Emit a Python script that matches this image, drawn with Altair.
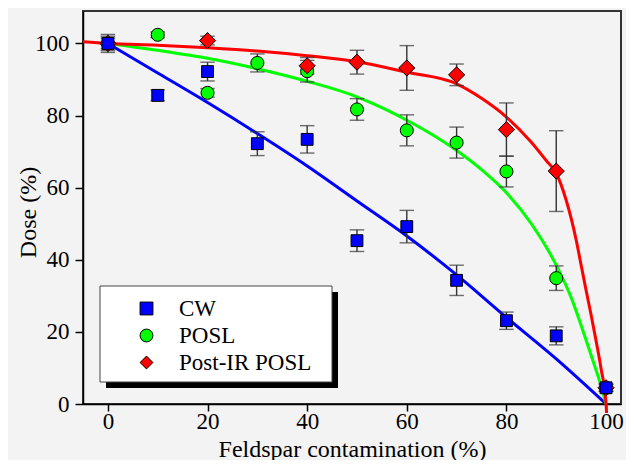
import altair as alt
import pandas as pd

series = ["CW", "POSL", "Post-IR POSL"]
colors = ["#0000ff", "#00ff00", "#ff0000"]
shapes = ["square", "circle", "diamond"]

x_ticks = [0, 20, 40, 60, 80, 100]
y_ticks = [0, 20, 40, 60, 80, 100]

# measured points (dose %, error)
cw_x = [0, 10, 20, 30, 40, 50, 60, 70, 80, 90, 100]
cw_y = [100, 85.6, 92.2, 72.2, 73.4, 45.3, 49.2, 34.3, 23.1, 18.9, 4.5]
cw_err = [2.5, 1.5, 2.6, 3.3, 3.8, 3.0, 4.5, 4.2, 2.4, 2.5, 1.0]

posl_x = [0, 10, 20, 30, 40, 50, 60, 70, 80, 90, 100]
posl_y = [100, 102.4, 86.3, 94.6, 92.3, 81.7, 75.9, 72.5, 64.5, 34.9, 4.5]
posl_err = [1.5, 0.8, 1.2, 2.5, 3.0, 3.0, 4.3, 4.3, 4.3, 3.4, 1.0]

pir_x = [0, 20, 40, 50, 60, 70, 80, 90, 100]
pir_y = [100, 100.8, 93.8, 94.8, 93.2, 91.3, 76.1, 64.6, 4.5]
pir_err = [2.0, 1.2, 2.3, 3.3, 6.2, 3.0, 7.4, 11.2, 1.0]

# fitted curves
cw_fit_x = [0, 10, 20, 30, 40, 50, 60, 70, 80, 90, 100]
cw_fit_y = [100, 91.8, 83.6, 75.0, 66.0, 56.3, 46.6, 35.8, 24.0, 12.5, 0]

posl_fit_x = [0, 10, 20, 30, 40, 50, 55, 60, 65, 70, 75, 80, 85, 90, 93, 95, 97, 99, 100]
posl_fit_y = [100, 98.1, 95.9, 93.0, 89.5, 85.2, 82.2, 78.7, 74.8, 70.3, 65.0, 58.6, 50.0, 38.5, 29.5, 21.8, 13.5, 5.0, 0]

pir_fit_x = [-5, 0, 10, 20, 30, 40, 50, 60, 70, 75, 80, 85, 88, 90, 92, 94, 95, 96, 97, 98, 99, 100, 100.1]
pir_fit_y = [100.5, 100, 99.5, 98.8, 97.9, 96.6, 94.9, 92.0, 88.8, 84.8, 79.6, 72.6, 67.5, 64.0, 56.5, 45.5, 38.5, 31.5, 24.7, 17.5, 9.8, 0, -2.5]

FONT = "Liberation Serif"

rows = []
for name, xs_, ys_, es in [("POSL", posl_x, posl_y, posl_err),
                           ("Post-IR POSL", pir_x, pir_y, pir_err),
                           ("CW", cw_x, cw_y, cw_err)]:
    for xv, yv, ev in zip(xs_, ys_, es):
        rows.append({"series": name, "x": xv, "y": yv, "lo": yv - ev, "hi": yv + ev})
pts = pd.DataFrame(rows)

xs = alt.Scale(domain=[-5, 103], nice=False, zero=False)
ys = alt.Scale(domain=[0, 109], nice=False, zero=False)

x_axis = alt.Axis(values=x_ticks, title="Feldspar contamination (%)", grid=False,
                  titleY=52, titleBaseline="alphabetic", labelPadding=-1, tickSize=7)
y_axis = alt.Axis(values=y_ticks, title="Dose (%)", grid=False,
                  titleX=-48, titleY=201, titleAngle=270, titleAlign="center",
                  titleBaseline="alphabetic", labelPadding=6, tickSize=8)


def fit_line(fx, fy, col):
    d = pd.DataFrame({"x": fx, "y": fy})
    return alt.Chart(d).mark_line(color=col, strokeWidth=3, clip=False,
                                  interpolate="monotone").encode(
        x=alt.X("x:Q", scale=xs, axis=x_axis),
        y=alt.Y("y:Q", scale=ys, axis=y_axis),
    )


lines = [fit_line(cw_fit_x, cw_fit_y, colors[0]),
         fit_line(posl_fit_x, posl_fit_y, colors[1]),
         fit_line(pir_fit_x, pir_fit_y, colors[2])]

base = alt.Chart(pts)
err = base.mark_rule(color="#333", strokeWidth=1.4).encode(
    x="x:Q", y="lo:Q", y2="hi:Q")
cap_lo = base.mark_point(shape="stroke", size=210, stroke="#333", strokeWidth=1.4,
                         filled=False).encode(x="x:Q", y="lo:Q")
cap_hi = base.mark_point(shape="stroke", size=210, stroke="#333", strokeWidth=1.4,
                         filled=False).encode(x="x:Q", y="hi:Q")

leg = alt.Legend(title=None, orient="none", legendX=52, legendY=286,
                 labelFont=FONT, labelFontSize=23, labelColor="black",
                 symbolStrokeColor="black", symbolStrokeWidth=1, symbolSize=165,
                 rowPadding=3, labelOffset=21, padding=0, symbolOffset=0)

size_rule = (alt.when(alt.datum.series == "Post-IR POSL").then(alt.value(260))
             .when(alt.datum.series == "POSL").then(alt.value(170))
             .otherwise(alt.value(140)))

points = base.mark_point(filled=True, stroke="black", strokeWidth=1,
                         opacity=1).encode(
    x="x:Q", y="y:Q",
    color=alt.Color("series:N", scale=alt.Scale(domain=series, range=colors), legend=leg),
    shape=alt.Shape("series:N", scale=alt.Scale(domain=series, range=shapes), legend=leg),
    size=size_rule,
)

one = pd.DataFrame({"a": [0]})
shadow = alt.Chart(one).mark_rect(color="black").encode(
    x=alt.value(23), x2=alt.value(255), y=alt.value(281), y2=alt.value(377))
box = alt.Chart(one).mark_rect(fill="white", stroke="#444", strokeWidth=1).encode(
    x=alt.value(17), x2=alt.value(249), y=alt.value(275), y2=alt.value(371))

chart = alt.layer(*lines, err, cap_lo, cap_hi, points, shadow, box).properties(
    width=538, height=393,
    padding={"left": 75, "top": 3, "right": 5, "bottom": 56},
    autosize=alt.AutoSizeParams(type="none"),
    background="#f3f3f3",
).configure_view(stroke="#333", strokeWidth=2).configure_axis(
    domainColor="black", domainWidth=1.5, tickColor="black", tickWidth=1.5,
    labelFont=FONT, labelFontSize=23, labelColor="black",
    titleFont=FONT, titleFontSize=24, titleFontWeight="normal", titleColor="black",
)

chart.save("out.html", embed_options={"renderer": "svg", "actions": False})
